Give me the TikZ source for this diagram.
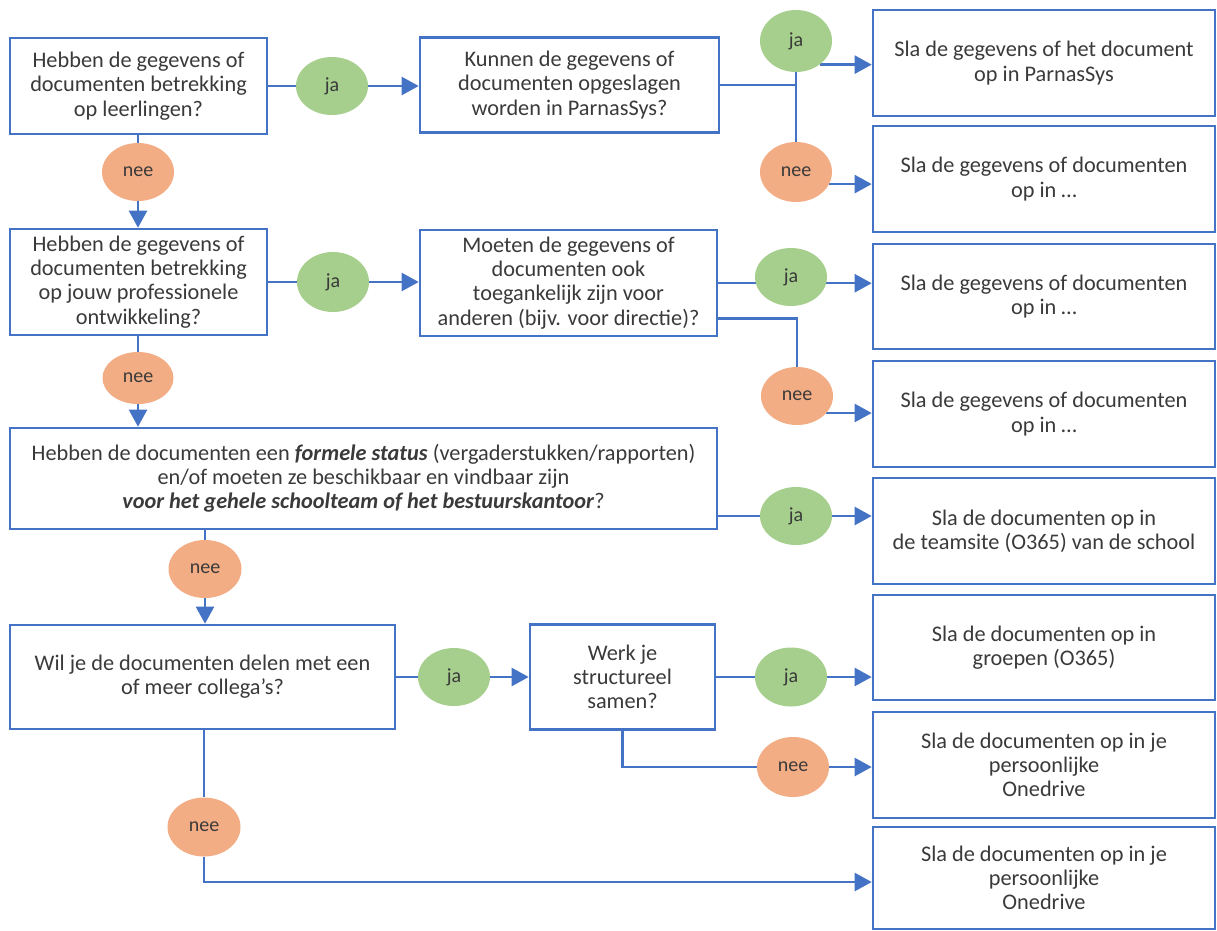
\documentclass[tikz,border=0pt]{standalone}
\usepackage{fontspec}
\setmainfont{Carlito}
\usetikzlibrary{arrows.meta,shapes.geometric,backgrounds}
\definecolor{bblue}{HTML}{4472C4}
\definecolor{jagreen}{HTML}{A6CE8C}
\definecolor{neeorange}{HTML}{F3AD85}
\definecolor{txt}{HTML}{3A3A3A}
\begin{document}
\begin{tikzpicture}[x=1pt,y=-1pt,
  box/.style={draw=bblue,line width=2.6pt,fill=white,text=txt,align=center,inner sep=0pt,
    font=\fontsize{22.3}{24.2}\selectfont},
  yes/.style={ellipse,fill=jagreen,text=txt,minimum width=72pt,minimum height=58pt,inner sep=0pt,
    font=\fontsize{20}{22}\selectfont},
  no/.style={ellipse,fill=neeorange,text=txt,minimum width=72pt,minimum height=58pt,inner sep=0pt,
    font=\fontsize{20}{22}\selectfont},
  conn/.style={draw=bblue,line width=2.4pt},
  arr/.style={conn,-{Triangle[length=17pt,width=18pt]}}
]
\useasboundingbox (0,0) rectangle (1217,930);

% left column questions
\node[box,minimum width=257pt,minimum height=96pt] (A1) at (138.5,86) {Hebben de gegevens of\\documenten betrekking\\op leerlingen?};
\node[box,minimum width=257pt,minimum height=106pt] (A2) at (138.5,282) {Hebben de gegevens of\\documenten betrekking\\op jouw professionele\\ontwikkeling?};
\node[box,minimum width=707pt,minimum height=101pt] (A3) at (363.5,478.5) {Hebben de documenten een \textbf{\textit{formele status}} (vergaderstukken/rapporten)\\en/of moeten ze beschikbaar en vindbaar zijn\\\textbf{\textit{voor het gehele schoolteam of het bestuurskantoor}}?};
\node[box,minimum width=385pt,minimum height=104pt] (A4) at (202.5,677) {Wil je de documenten delen met een\\of meer collega’s?};

% middle column questions
\node[box,minimum width=299pt,minimum height=95pt] (B1) at (569.5,85) {Kunnen de gegevens of\\documenten opgeslagen\\worden in ParnasSys?};
\node[box,minimum width=297pt,minimum height=106pt] (B2) at (568.5,283) {Moeten de gegevens of\\documenten ook\\toegankelijk zijn voor\\anderen (bijv. voor directie)?};
\node[box,minimum width=185pt,minimum height=105pt] (B4) at (622.5,677) {Werk je\\structureel\\samen?};

% right column outcomes
\node[box,minimum width=342pt,minimum height=106pt] (C1) at (1044,63) {Sla de gegevens of het document\\op in ParnasSys};
\node[box,minimum width=342pt,minimum height=106pt] (C2) at (1044,179) {Sla de gegevens of documenten\\op in …};
\node[box,minimum width=342pt,minimum height=105pt] (C3) at (1044,296.5) {Sla de gegevens of documenten\\op in …};
\node[box,minimum width=342pt,minimum height=106pt] (C4) at (1044,414) {Sla de gegevens of documenten\\op in …};
\node[box,minimum width=342pt,minimum height=106pt] (C5) at (1044,531) {Sla de documenten op in\\de teamsite (O365) van de school};
\node[box,minimum width=342pt,minimum height=105pt] (C6) at (1044,647.5) {Sla de documenten op in\\groepen (O365)};
\node[box,minimum width=342pt,minimum height=106pt] (C7) at (1044,765) {Sla de documenten op in je\\persoonlijke\\Onedrive};
\node[box,minimum width=342pt,minimum height=102pt] (C8) at (1044,878) {Sla de documenten op in je\\persoonlijke\\Onedrive};

% decision labels
\node[yes] (ja1) at (332,86) {ja};
\node[no] (nee1) at (138,172) {nee};
\node[yes,minimum height=62pt] (ja2) at (796,41) {ja};
\node[no,minimum height=60pt] (nee2) at (796,172) {nee};
\node[yes,minimum height=60pt] (jaA2) at (333,282) {ja};
\node[no,minimum width=71pt,minimum height=52pt] (neeA2) at (138,378) {nee};
\node[yes] (ja3) at (791,277) {ja};
\node[no] (nee4) at (797,396) {nee};
\node[yes,minimum height=58pt] (jaA3) at (796,516) {ja};
\node[no,minimum width=73pt,minimum height=58pt] (neeA3) at (205,569) {nee};
\node[yes] (ja5) at (454,677) {ja};
\node[yes,minimum height=59pt] (ja6) at (791,677) {ja};
\node[no,minimum height=60pt] (nee7) at (793,767) {nee};
\node[no,minimum width=73pt,minimum height=59pt] (nee8) at (204,827) {nee};

\begin{scope}[on background layer]
% row 1
\draw[conn] (A1.east) -- (ja1.west);
\draw[arr] (ja1.east) -- (ja1.east -| B1.west);
\draw[conn] (B1.east) -- (B1.east -| ja2.south);
\draw[conn] (ja2.south) -- (nee2.north);
\draw[arr] (ja2.-45) -- (ja2.-45 -| C1.west);
\draw[arr] (nee2.-20) -- (nee2.-20 -| C2.west);
\draw[conn] (nee1.north |- A1.south) -- (nee1.north);
\draw[arr] (nee1.south) -- (nee1.south |- A2.north);
% row 2
\draw[conn] (A2.east) -- (jaA2.west);
\draw[arr] (jaA2.east) -- (jaA2.east -| B2.west);
\draw[conn] (ja3.190 -| B2.east) -- (ja3.190);
\draw[arr] (ja3.-10) -- (ja3.-10 -| C3.west);
\draw[conn] ([yshift=19pt]B2.south east) -| (nee4.north);
\draw[arr] (nee4.-30) -- (nee4.-30 -| C4.west);
\draw[conn] (neeA2.north |- A2.south) -- (neeA2.north);
\draw[arr] (neeA2.south) -- (neeA2.south |- A3.north);
% row 3
\draw[conn] (jaA3.west -| A3.east) -- (jaA3.west);
\draw[arr] (jaA3.east) -- (jaA3.east -| C5.west);
\draw[conn] (neeA3.north |- A3.south) -- (neeA3.north);
\draw[arr] (neeA3.south) -- (neeA3.south |- A4.north);
% row 4
\draw[conn] (A4.east) -- (ja5.west);
\draw[arr] (ja5.east) -- (ja5.east -| B4.west);
\draw[conn] (ja6.west -| B4.east) -- (ja6.west);
\draw[arr] (ja6.east) -- (ja6.east -| C6.west);
\draw[conn] (B4.south) |- (nee7.west);
\draw[arr] (nee7.east) -- (nee7.east -| C7.west);
\draw[conn] (nee8.north |- A4.south) -- (nee8.north);
\draw[arr] (nee8.south) |- ([yshift=-4pt]C8.west);
\end{scope}
\end{tikzpicture}
\end{document}
